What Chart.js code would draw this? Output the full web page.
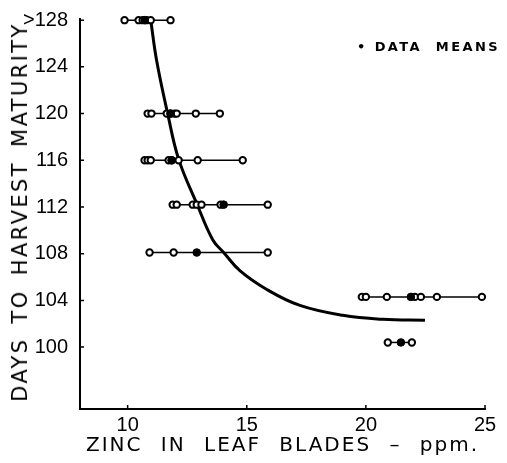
<!DOCTYPE html>
<html>
<head>
<meta charset="utf-8">
<script src="https://cdn.jsdelivr.net/npm/chart.js@4/dist/chart.umd.min.js"></script>
<style>
  html, body { margin: 0; padding: 0; background: #fff; }
  #wrap { position: relative; width: 507px; height: 463px; }
  #wrap div { position: absolute; white-space: pre; color: #000; font-family: "DejaVu Sans", sans-serif; }
  #legend { left: 357px; top: 39px; font-size: 13px; font-weight: bold; letter-spacing: 2.4px; }
  #xtitle { left: 80px; width: 405px; top: 431px; text-align: center; font-size: 20px; line-height: 26px; letter-spacing: 2px; word-spacing: 10px; }
  #ytitle { left: 20px; top: 212px; font-size: 21px; line-height: 26px; letter-spacing: 2.4px; word-spacing: 5px;
            transform: translate(-50%, -50%) rotate(-90deg); }
</style>
</head>
<body>
<div id="wrap">
  <canvas id="chart" width="507" height="463"></canvas>
  <div id="legend">&#8226; DATA  MEANS</div>
  <div id="xtitle">ZINC IN LEAF BLADES – ppm.</div>
  <div id="ytitle">DAYS TO HARVEST MATURITY</div>
</div>
<script>
// days to harvest maturity for each row of observations
const rowDays = [128, 120, 116, 112.2, 108.1, 104.3, 100.4];

// zinc (ppm) of the individual observations in each row
const rowZinc = [
  [9.87, 10.46, 10.63, 10.8, 10.97, 11.8],
  [10.84, 11.0, 11.64, 11.8, 11.97, 12.06, 12.86, 13.87],
  [10.71, 10.84, 10.97, 11.72, 11.85, 12.14, 12.94, 14.83],
  [11.89, 12.06, 12.73, 12.9, 13.1, 13.9, 15.88],
  [10.92, 11.93, 15.88],
  [19.83, 20.0, 20.88, 22.06, 22.31, 22.98, 24.87],
  [20.92, 21.93]
];

// row means (filled dots)
const meanZinc = [10.72, 11.8, 11.85, 14.03, 12.9, 21.89, 21.47];

// fitted curve
const curveZinc = [10.97, 11.22, 11.68, 12.14, 12.9, 13.57, 14.03, 14.71, 15.84, 17.23, 19.03, 20.71, 22.48];
const curveDays = [128, 124.5, 120, 116.1, 112.3, 109.2, 108.1, 106.55, 104.94, 103.57, 102.72, 102.38, 102.3];

const xTicks = [10, 15, 20, 25];
const yTicks = [100, 104, 108, 112, 116, 120, 124, 128];
const yTickLabels = ['100', '104', '108', '112', '116', '120', '124', '>128'];

const datasets = [];

datasets.push({
  data: curveZinc.map((x, i) => ({ x: x, y: curveDays[i] })),
  showLine: true,
  borderColor: '#000',
  borderWidth: 3,
  pointRadius: 0,
  tension: 0.4,
  order: 3
});

rowZinc.forEach((row, r) => {
  datasets.push({
    data: row.map(x => ({ x: x, y: rowDays[r] })),
    showLine: true,
    borderColor: '#000',
    borderWidth: 1.5,
    pointRadius: 3.2,
    pointBorderWidth: 2,
    pointBackgroundColor: '#fff',
    pointBorderColor: '#000',
    order: 2
  });
});

datasets.push({
  data: meanZinc.map((x, i) => ({ x: x, y: rowDays[i] })),
  showLine: false,
  pointRadius: 3.8,
  pointBorderWidth: 1,
  pointBackgroundColor: '#000',
  pointBorderColor: '#000',
  order: 1
});

// small inward tick marks like the original
const innerTicks = {
  id: 'innerTicks',
  afterDatasetsDraw(chart) {
    const ctx = chart.ctx, xs = chart.scales.x, ys = chart.scales.y;
    ctx.save();
    ctx.strokeStyle = '#000';
    ctx.lineWidth = 1.5;
    ctx.beginPath();
    yTicks.forEach(v => {
      const py = ys.getPixelForValue(v);
      ctx.moveTo(xs.left, py); ctx.lineTo(xs.left + 4, py);
    });
    xTicks.forEach(v => {
      const px = xs.getPixelForValue(v);
      ctx.moveTo(px, ys.bottom); ctx.lineTo(px, ys.bottom - 4);
    });
    ctx.stroke();
    ctx.restore();
  }
};

new Chart(document.getElementById('chart'), {
  type: 'scatter',
  data: { datasets: datasets },
  plugins: [innerTicks],
  options: {
    responsive: false,
    animation: false,
    clip: false,
    layout: { padding: { top: 19, right: 22, left: 0, bottom: 0 } },
    plugins: { legend: { display: false }, tooltip: { enabled: false } },
    scales: {
      x: {
        min: 8,
        max: 25,
        afterBuildTicks: s => { s.ticks = xTicks.map(v => ({ value: v })); },
        afterFit: s => { s.height = 54; },
        grid: { display: false },
        border: { color: '#000', width: 2 },
        ticks: {
          color: '#000', padding: -2,
          font: { family: 'Liberation Sans', size: 20, lineHeight: 1 },
          callback: v => xTicks.includes(v) ? String(v) : ''
        }
      },
      y: {
        min: 94.7,
        max: 128.1,
        afterBuildTicks: s => { s.ticks = yTicks.map(v => ({ value: v })); },
        afterFit: s => { s.width = 80; },
        grid: { display: false },
        border: { color: '#000', width: 2 },
        ticks: {
          color: '#000',
          padding: 4,
          font: { family: 'Liberation Sans', size: 20 },
          callback: v => yTickLabels[yTicks.indexOf(v)]
        }
      }
    }
  }
});
</script>
</body>
</html>
